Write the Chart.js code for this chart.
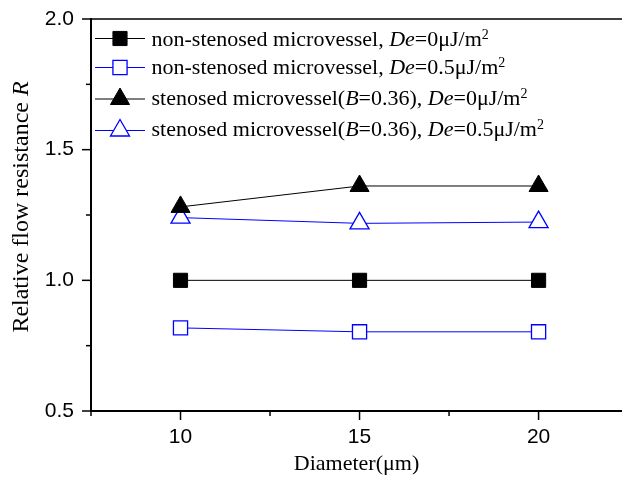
<!DOCTYPE html>
<html>
<head>
<meta charset="utf-8">
<script src="https://cdn.jsdelivr.net/npm/chart.js@4/dist/chart.umd.min.js"></script>
<style>
  body { margin: 0; background: #fff; }
  canvas { display: block; }
</style>
</head>
<body>
<canvas id="myChart" width="622" height="479"></canvas>
<script>
// diameters (um) and relative flow resistance R
let diameters = [10, 15, 20];
let nonStenosedDe0 = [1.0, 1.0, 1.0];
let nonStenosedDe05 = [0.818, 0.803, 0.803];
let stenosedDe0 = [1.281, 1.361, 1.361];
let stenosedDe05 = [1.240, 1.218, 1.223];
let yTicks = [0.5, 0.75, 1.0, 1.25, 1.5, 1.75, 2.0];
let xTicks = [7.5, 10, 12.5, 15, 17.5, 20];

const serif = "'Liberation Serif', 'Times New Roman', serif";
const sans = "'Liberation Sans', Arial, sans-serif";

function pts(ys) {
    return diameters.map((d, i) => ({ x: d, y: ys[i] }));
}

// legend rows: [lineY, textY, colour, pointStyle, filled, text runs]
const legendRows = [
    [38.5, 39, '#000', 'rect', true, [['non-stenosed microvessel, ', ''], ['De', 'i'], ['=0\u03bcJ/m', ''], ['2', 's']]],
    [67.5, 66.5, '#0000ff', 'rect', false, [['non-stenosed microvessel, ', ''], ['De', 'i'], ['=0.5\u03bcJ/m', ''], ['2', 's']]],
    [99, 97.5, '#000', 'triangle', true, [['stenosed microvessel(', ''], ['B', 'i'], ['=0.36), ', ''], ['De', 'i'], ['=0\u03bcJ/m', ''], ['2', 's']]],
    [130.5, 128.5, '#0000ff', 'triangle', false, [['stenosed microvessel(', ''], ['B', 'i'], ['=0.36), ', ''], ['De', 'i'], ['=0.5\u03bcJ/m', ''], ['2', 's']]]
];

function marker(ctx, style, r, x, y, filled, color) {
    ctx.save();
    ctx.fillStyle = filled ? color : '#fff';
    ctx.strokeStyle = color;
    ctx.lineWidth = filled ? 1 : 1.3;
    if (Chart.helpers && Chart.helpers.drawPoint) {
        Chart.helpers.drawPoint(ctx, { pointStyle: style, radius: r, rotation: 0, borderWidth: ctx.lineWidth }, x, y);
    } else {
        ctx.beginPath();
        if (style === 'rect') {
            const s = r * Math.SQRT1_2;
            ctx.rect(x - s, y - s, 2 * s, 2 * s);
        } else {
            ctx.moveTo(x, y - r);
            ctx.lineTo(x + r * 0.866, y + r / 2);
            ctx.lineTo(x - r * 0.866, y + r / 2);
            ctx.closePath();
        }
        ctx.fill();
        ctx.stroke();
    }
    ctx.restore();
}

function noPad(s) {
    s.paddingTop = 0;
    s.paddingBottom = 0;
    s.paddingLeft = 0;
    s.paddingRight = 0;
}

const decorations = {
    id: 'decorations',
    afterDraw(chart) {
        const ctx = chart.ctx;
        const a = chart.chartArea;
        const xs = chart.scales.x, ys = chart.scales.y;
        ctx.save();
        ctx.strokeStyle = '#000';
        // frame: left, bottom, top
        ctx.lineWidth = 2;
        ctx.beginPath();
        ctx.moveTo(a.left, a.top - 1);
        ctx.lineTo(a.left, a.bottom);
        ctx.lineTo(a.right, a.bottom);
        ctx.stroke();
        ctx.lineWidth = 1.5;
        ctx.beginPath();
        ctx.moveTo(a.left, a.top);
        ctx.lineTo(a.right, a.top);
        ctx.stroke();
        // tick marks
        ctx.lineWidth = 1.5;
        ys.ticks.forEach(t => {
            const p = ys.getPixelForValue(t.value);
            const len = Math.abs(t.value * 2 - Math.round(t.value * 2)) < 1e-6 ? 9 : 5;
            ctx.beginPath();
            ctx.moveTo(a.left, p);
            ctx.lineTo(a.left - len, p);
            ctx.stroke();
        });
        xs.ticks.forEach(t => {
            const p = xs.getPixelForValue(t.value);
            const len = t.value % 5 === 0 ? 9 : 5;
            ctx.beginPath();
            ctx.moveTo(p, a.bottom);
            ctx.lineTo(p, a.bottom + len);
            ctx.stroke();
        });

        // y axis title with italic R
        ctx.fillStyle = '#000';
        ctx.textBaseline = 'alphabetic';
        ctx.translate(28, 207);
        ctx.rotate(-Math.PI / 2);
        ctx.font = '24px ' + serif;
        const t1 = 'Relative flow resistance ';
        const w1 = ctx.measureText(t1).width;
        ctx.font = 'italic 24px ' + serif;
        const w2 = ctx.measureText('R').width;
        let sx = -(w1 + w2) / 2;
        ctx.font = '24px ' + serif;
        ctx.fillText(t1, sx, 0);
        ctx.font = 'italic 24px ' + serif;
        ctx.fillText('R', sx + w1, 0);
        ctx.restore();

        // legend
        ctx.save();
        legendRows.forEach(row => {
            const [ly, ty, color, style, filled, runs] = row;
            ctx.strokeStyle = color;
            ctx.lineWidth = 1;
            ctx.beginPath();
            ctx.moveTo(95, ly);
            ctx.lineTo(145, ly);
            ctx.stroke();
            marker(ctx, style, style === 'rect' ? 10 : 11, 120, ly, filled, color);
            let x = 151.5;
            const base = ty + 7;
            ctx.fillStyle = '#000';
            ctx.textBaseline = 'alphabetic';
            runs.forEach(([txt, kind]) => {
                if (kind === 'i') ctx.font = 'italic 22px ' + serif;
                else if (kind === 's') ctx.font = '14px ' + serif;
                else ctx.font = '22px ' + serif;
                ctx.fillText(txt, x, kind === 's' ? base - 7 : base);
                x += ctx.measureText(txt).width;
            });
        });
        ctx.restore();
    }
};

const data = {
    datasets: [
        {
            label: 'non-stenosed microvessel, De=0\u03bcJ/m2',
            data: pts(nonStenosedDe0),
            borderColor: '#000',
            borderWidth: 1,
            pointStyle: 'rect',
            pointRadius: 10,
            pointBackgroundColor: '#000',
            pointBorderColor: '#000',
            pointBorderWidth: 1
        },
        {
            label: 'non-stenosed microvessel, De=0.5\u03bcJ/m2',
            data: pts(nonStenosedDe05),
            borderColor: '#0000ff',
            borderWidth: 1,
            pointStyle: 'rect',
            pointRadius: 10,
            pointBackgroundColor: '#fff',
            pointBorderColor: '#0000ff',
            pointBorderWidth: 1.3
        },
        {
            label: 'stenosed microvessel(B=0.36), De=0\u03bcJ/m2',
            data: pts(stenosedDe0),
            borderColor: '#000',
            borderWidth: 1,
            pointStyle: 'triangle',
            pointRadius: 11,
            pointBackgroundColor: '#000',
            pointBorderColor: '#000',
            pointBorderWidth: 1
        },
        {
            label: 'stenosed microvessel(B=0.36), De=0.5\u03bcJ/m2',
            data: pts(stenosedDe05),
            borderColor: '#0000ff',
            borderWidth: 1,
            pointStyle: 'triangle',
            pointRadius: 11,
            pointBackgroundColor: '#fff',
            pointBorderColor: '#0000ff',
            pointBorderWidth: 1.3
        }
    ]
};

const config = {
    type: 'line',
    data: data,
    options: {
        responsive: false,
        animation: false,
        devicePixelRatio: 1,
        events: [],
        layout: { autoPadding: false, padding: { top: 19, right: 0, left: 0, bottom: 0 } },
        plugins: {
            legend: { display: false },
            tooltip: { enabled: false }
        },
        scales: {
            x: {
                type: 'linear',
                min: 7.5,
                max: 22.33,
                afterFit: s => { s.height = 68; noPad(s); },
                afterBuildTicks: s => { s.ticks = xTicks.map(v => ({ value: v })); },
                grid: { display: false, drawTicks: false },
                border: { display: false },
                ticks: {
                    padding: 14,
                    color: '#000',
                    font: { family: sans, size: 21 },
                    autoSkip: false,
                    maxRotation: 0,
                    callback: v => (v % 5 === 0 ? String(v) : '')
                },
                title: {
                    display: true,
                    text: 'Diameter(\u03bcm)',
                    color: '#000',
                    font: { family: serif, size: 22 },
                    padding: { top: 0, bottom: 2 }
                }
            },
            y: {
                min: 0.5,
                max: 2.0,
                afterFit: s => { s.width = 91; noPad(s); },
                afterBuildTicks: s => { s.ticks = yTicks.map(v => ({ value: v })); },
                grid: { display: false, drawTicks: false },
                border: { display: false },
                ticks: {
                    padding: 17,
                    color: '#000',
                    font: { family: sans, size: 21 },
                    autoSkip: false,
                    callback: v => (Math.abs(v * 2 - Math.round(v * 2)) < 1e-6 ? v.toFixed(1) : '')
                }
            }
        }
    },
    plugins: [decorations]
};

const chart1 = new Chart(document.getElementById('myChart').getContext('2d'), config);
</script>
</body>
</html>
